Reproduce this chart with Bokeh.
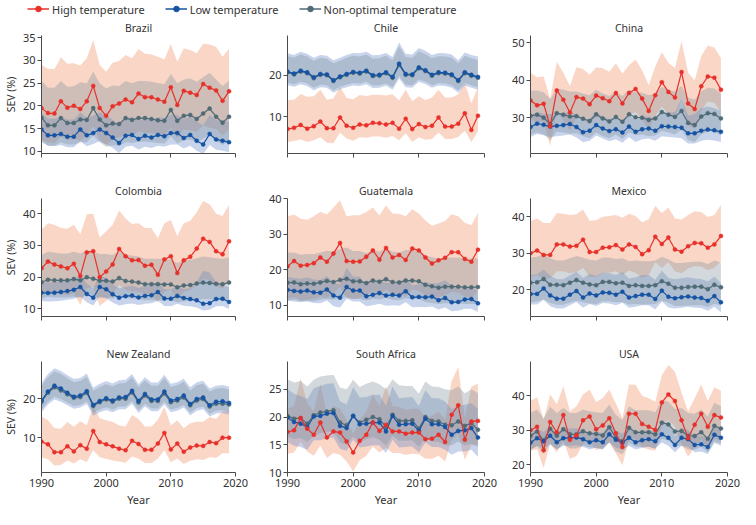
from bokeh.plotting import figure
from bokeh.models import Range1d, FixedTicker, Legend, LegendItem, ColumnDataSource
from bokeh.layouts import gridplot, column
from bokeh.embed import file_html
from bokeh.resources import INLINE

YEARS = list(range(1990, 2020))
X_TICKS = [1990, 2000, 2010, 2020]

# ---------------- Brazil ----------------
BRA_HIGH = [19.5, 18.4, 18.3, 21.0, 19.6, 20.0, 19.3, 21.0, 24.4, 19.5,
            17.8, 19.9, 20.5, 21.4, 20.8, 22.7, 21.9, 21.9, 21.4, 20.9,
            24.1, 20.2, 23.3, 22.9, 22.4, 24.8, 24.0, 23.4, 21.1, 23.2]
BRA_HIGH_HI = [29.0, 28.2, 28.1, 30.7, 29.3, 29.4, 28.9, 30.5, 34.5, 29.0,
               27.5, 29.5, 29.9, 31.2, 30.5, 32.5, 31.5, 31.3, 30.8, 30.2,
               33.6, 29.7, 32.7, 32.3, 31.6, 33.7, 33.5, 33.0, 30.8, 32.6]
BRA_HIGH_LO = [12.5, 11.9, 11.8, 13.3, 12.5, 12.8, 12.3, 13.4, 15.5, 12.5,
               11.4, 12.7, 13.1, 13.6, 13.3, 14.4, 14.0, 14.0, 13.7, 13.4,
               15.2, 12.9, 14.8, 14.6, 14.3, 15.7, 15.2, 14.9, 13.5, 14.8]
BRA_NOPT = [17.4, 15.7, 15.7, 17.3, 16.2, 16.2, 17.0, 16.9, 19.5, 17.0,
            15.7, 16.1, 16.0, 17.3, 16.9, 17.3, 17.3, 17.1, 16.8, 16.7,
            19.1, 16.7, 17.8, 18.0, 17.1, 18.3, 19.4, 17.6, 16.3, 17.6]
BRA_NOPT_HI = [25.5, 24.0, 24.0, 25.5, 24.2, 24.3, 25.2, 25.0, 27.5, 25.0,
               23.8, 24.5, 24.4, 25.5, 25.0, 25.5, 25.5, 25.3, 25.0, 24.8,
               27.0, 25.0, 25.8, 26.0, 25.3, 26.3, 27.3, 25.8, 24.4, 25.6]
BRA_NOPT_LO = [12.0, 11.2, 11.2, 12.0, 11.5, 11.5, 12.0, 12.0, 13.5, 12.0,
               11.0, 11.3, 11.2, 12.0, 11.8, 12.1, 12.1, 12.0, 11.8, 11.7,
               13.3, 11.7, 12.4, 12.6, 12.0, 12.8, 13.5, 12.3, 11.4, 12.3]
BRA_LOW = [14.8, 13.5, 13.5, 13.8, 13.2, 13.2, 14.8, 13.5, 14.0, 14.8,
           14.0, 13.0, 11.8, 13.4, 13.6, 12.7, 13.4, 13.0, 13.6, 13.3,
           14.0, 14.0, 12.9, 13.6, 12.3, 11.5, 13.8, 12.6, 12.3, 12.0]
BRA_LOW_HI = [18.5, 17.2, 17.2, 17.5, 17.0, 17.0, 18.6, 17.3, 17.8, 18.6,
              17.8, 17.0, 15.8, 17.3, 17.5, 16.6, 17.3, 17.0, 17.5, 17.3,
              18.0, 18.0, 17.0, 17.7, 16.5, 15.8, 18.0, 16.8, 16.8, 16.5]
BRA_LOW_LO = [12.3, 11.2, 11.1, 11.4, 10.9, 10.9, 12.2, 11.1, 11.6, 12.2,
              11.5, 10.7, 9.6, 11.0, 11.2, 10.4, 11.0, 10.7, 11.2, 11.0,
              11.5, 11.5, 10.6, 11.2, 10.1, 9.4, 11.4, 10.3, 10.1, 9.8]

# ---------------- Chile ----------------
CHL_HIGH = [7.0, 7.3, 8.0, 7.1, 7.7, 8.8, 7.2, 7.2, 9.8, 7.8,
            7.3, 8.1, 7.9, 8.5, 8.4, 8.1, 8.5, 7.1, 9.5, 7.0,
            8.2, 7.5, 7.8, 9.8, 7.6, 7.6, 8.3, 10.8, 6.8, 10.2]
CHL_HIGH_HI = [14.0, 14.1, 15.5, 14.8, 14.9, 16.5, 14.1, 14.4, 17.2, 14.5,
               14.2, 15.2, 15.0, 15.3, 15.3, 15.1, 15.4, 13.9, 16.5, 13.7,
               14.9, 14.0, 14.6, 16.5, 14.6, 14.6, 15.4, 18.2, 13.2, 17.2]
CHL_HIGH_LO = [3.8, 4.2, 4.5, 3.9, 4.3, 5.0, 3.7, 3.6, 6.2, 4.7,
               4.2, 5.0, 4.9, 5.2, 5.2, 4.9, 5.3, 4.3, 6.0, 3.9,
               5.0, 4.4, 4.6, 6.2, 4.6, 4.6, 5.1, 6.6, 3.9, 6.4]
CHL_NOPT = [20.7, 20.2, 20.9, 20.5, 19.3, 20.1, 20.0, 18.6, 19.5, 20.1,
            20.6, 20.4, 20.9, 19.8, 19.9, 20.5, 19.4, 22.5, 20.1, 20.0,
            21.7, 21.0, 19.9, 20.5, 20.4, 20.0, 18.6, 20.5, 19.9, 19.4]
CHL_NOPT_HI = [24.6, 24.2, 25.0, 24.5, 23.5, 24.2, 24.0, 22.9, 23.5, 24.2,
               24.7, 24.5, 25.0, 24.0, 24.1, 24.7, 23.6, 27.0, 24.4, 24.2,
               25.8, 25.1, 24.1, 24.6, 24.5, 24.2, 22.9, 24.7, 24.1, 23.7]
CHL_NOPT_LO = [18.2, 17.8, 18.4, 18.0, 17.0, 17.7, 17.6, 16.4, 17.2, 17.7,
               18.1, 18.0, 18.4, 17.5, 17.6, 18.0, 17.1, 19.8, 17.7, 17.6,
               19.0, 18.5, 17.6, 18.1, 18.0, 17.6, 16.4, 18.1, 17.6, 17.1]
CHL_LOW = [20.9, 20.4, 21.1, 20.7, 19.5, 20.3, 20.2, 18.8, 19.7, 20.3,
           20.8, 20.6, 21.1, 20.0, 20.1, 20.7, 19.6, 22.8, 20.3, 20.2,
           21.9, 21.2, 20.1, 20.7, 20.6, 20.2, 18.8, 20.7, 20.1, 19.6]
CHL_LOW_HI = [25.3, 24.9, 25.7, 25.2, 24.2, 24.9, 24.7, 23.6, 24.2, 24.9,
              25.4, 25.3, 25.7, 24.8, 24.9, 25.4, 24.4, 27.9, 25.2, 25.0,
              26.6, 25.9, 24.9, 25.4, 25.3, 25.0, 23.6, 25.5, 24.9, 24.5]
CHL_LOW_LO = [17.6, 17.2, 17.8, 17.4, 16.4, 17.1, 17.0, 15.8, 16.6, 17.1,
              17.5, 17.4, 17.8, 16.9, 17.0, 17.5, 16.5, 19.2, 17.1, 17.0,
              18.4, 17.9, 17.0, 17.5, 17.4, 17.0, 15.8, 17.5, 17.0, 16.5]

# ---------------- China ----------------
CHN_HIGH = [34.6, 33.3, 33.7, 27.7, 37.3, 34.8, 31.4, 35.5, 35.1, 33.6,
            35.9, 35.2, 34.4, 36.6, 33.8, 36.6, 37.7, 35.1, 31.8, 36.0,
            39.5, 36.9, 35.4, 42.2, 33.8, 32.3, 38.4, 41.0, 40.7, 37.5]
CHN_HIGH_HI = [42.0, 40.8, 41.0, 35.0, 45.0, 42.0, 38.5, 43.5, 43.0, 41.5,
               43.5, 43.2, 42.3, 44.5, 41.8, 44.0, 45.6, 42.7, 38.7, 43.7,
               47.5, 44.7, 43.3, 50.5, 42.0, 40.0, 46.5, 49.3, 48.8, 46.0]
CHN_HIGH_LO = [29.5, 28.8, 29.0, 22.5, 31.5, 29.3, 26.5, 30.0, 29.5, 28.2,
               30.2, 29.5, 29.0, 30.7, 28.3, 30.7, 31.5, 29.5, 26.8, 30.5,
               33.0, 31.0, 29.8, 35.0, 28.0, 27.0, 32.0, 34.3, 34.0, 31.5]
CHN_NOPT = [30.5, 30.8, 30.0, 28.3, 31.2, 30.8, 30.3, 30.4, 29.7, 29.1,
            30.9, 29.8, 29.0, 30.2, 28.9, 30.9, 30.1, 30.0, 29.4, 29.8,
            31.5, 30.8, 30.2, 31.8, 28.6, 28.0, 30.3, 31.2, 31.0, 29.8]
CHN_NOPT_HI = [37.3, 37.3, 36.8, 35.0, 37.8, 37.5, 37.0, 37.0, 36.5, 36.0,
               37.5, 36.5, 35.8, 37.0, 35.8, 37.5, 36.8, 36.7, 36.0, 36.5,
               38.2, 37.5, 37.0, 38.5, 35.3, 34.8, 37.0, 38.0, 37.8, 36.5]
CHN_NOPT_LO = [25.5, 26.0, 25.5, 24.0, 26.2, 26.0, 25.7, 25.8, 25.0, 24.5,
               26.0, 25.0, 24.5, 25.5, 24.3, 26.0, 25.3, 25.5, 25.0, 25.2,
               26.5, 26.0, 25.5, 26.8, 24.0, 23.5, 25.5, 26.3, 26.2, 25.3]
CHN_LOW = [27.5, 28.4, 28.1, 27.6, 27.8, 28.0, 28.3, 27.5, 26.1, 26.5,
           28.0, 27.1, 26.4, 26.9, 26.0, 27.6, 26.2, 26.9, 27.1, 26.5,
           27.7, 27.6, 27.5, 27.3, 25.8, 25.8, 26.5, 26.8, 26.6, 26.2]
CHN_LOW_HI = [30.5, 31.5, 31.0, 31.0, 31.0, 31.2, 31.5, 30.8, 29.3, 29.7,
              31.3, 30.3, 29.6, 30.1, 29.2, 30.8, 29.4, 30.1, 30.3, 29.7,
              31.5, 31.3, 31.5, 35.0, 30.5, 31.0, 32.5, 33.0, 32.5, 31.8]
CHN_LOW_LO = [24.8, 25.6, 25.3, 24.8, 25.0, 25.2, 25.5, 24.7, 23.4, 23.8,
              25.2, 24.4, 23.7, 24.2, 23.3, 24.8, 23.5, 24.2, 24.4, 23.8,
              25.0, 24.8, 24.7, 24.5, 23.1, 23.1, 23.8, 24.1, 23.9, 23.5]

# ---------------- Colombia ----------------
COL_HIGH = [22.8, 24.9, 24.0, 23.4, 22.8, 24.2, 20.4, 27.8, 28.2, 20.0,
            21.8, 24.0, 28.9, 26.6, 25.3, 25.4, 23.6, 23.9, 20.8, 25.6,
            26.6, 21.3, 25.3, 26.4, 29.0, 32.1, 31.1, 28.2, 27.2, 31.3]
COL_HIGH_HI = [35.0, 37.0, 36.5, 35.5, 35.3, 36.5, 33.5, 39.8, 40.0, 32.5,
               34.5, 36.5, 41.0, 38.5, 36.8, 37.0, 35.5, 35.5, 32.3, 37.0,
               38.0, 33.0, 37.0, 37.8, 40.5, 44.0, 43.0, 40.0, 39.3, 42.8]
COL_HIGH_LO = [14.5, 15.5, 15.0, 14.8, 14.3, 15.0, 11.2, 16.5, 17.0, 10.9,
               12.5, 14.8, 17.5, 16.0, 15.5, 15.5, 14.5, 14.5, 12.0, 15.5,
               16.0, 13.0, 15.3, 16.0, 17.5, 19.5, 19.0, 17.0, 16.5, 19.0]
COL_NOPT = [18.4, 19.2, 19.0, 19.0, 19.0, 19.4, 19.0, 20.0, 19.5, 18.9,
            18.9, 18.6, 19.7, 18.8, 18.6, 18.3, 17.8, 17.8, 17.8, 17.7,
            17.7, 16.8, 17.4, 17.5, 18.0, 18.3, 18.2, 17.9, 17.8, 18.3]
COL_NOPT_HI = [27.0, 28.0, 27.8, 27.5, 27.5, 28.0, 27.5, 28.5, 28.0, 27.3,
               27.3, 27.0, 28.2, 27.0, 26.8, 26.5, 25.8, 25.8, 25.8, 25.7,
               25.6, 24.5, 25.3, 25.4, 26.0, 26.5, 26.3, 26.0, 25.8, 26.3]
COL_NOPT_LO = [13.3, 13.8, 13.6, 13.6, 13.6, 13.8, 13.6, 14.2, 13.8, 13.5,
               13.5, 13.3, 14.0, 13.4, 13.3, 13.1, 12.7, 12.7, 12.7, 12.6,
               12.7, 12.0, 12.4, 12.5, 12.8, 13.1, 13.0, 12.8, 12.7, 13.1]
COL_LOW = [15.1, 15.0, 15.1, 15.3, 15.6, 16.0, 16.9, 14.7, 13.5, 16.9,
           16.2, 14.6, 13.5, 14.0, 14.2, 13.6, 14.1, 14.3, 15.3, 13.3,
           13.2, 14.1, 13.4, 13.1, 12.7, 11.6, 11.8, 13.1, 13.2, 12.2]
COL_LOW_HI = [18.5, 18.3, 18.4, 18.6, 19.0, 19.5, 20.5, 18.0, 16.5, 20.5,
              19.7, 17.8, 16.5, 17.0, 17.3, 16.6, 17.2, 17.4, 18.6, 16.2,
              16.1, 17.2, 16.3, 16.5, 18.5, 22.0, 21.5, 18.5, 17.5, 16.8]
COL_LOW_LO = [12.5, 12.3, 12.4, 12.6, 12.9, 13.2, 13.9, 12.1, 11.1, 13.9,
              13.3, 12.0, 11.1, 11.5, 11.7, 11.2, 11.6, 11.8, 12.6, 10.9,
              10.8, 11.6, 11.0, 10.8, 10.4, 9.5, 9.7, 10.8, 10.9, 10.0]

# ---------------- Guatemala ----------------
GTM_HIGH = [20.9, 22.4, 21.1, 21.3, 21.8, 23.4, 22.2, 24.5, 27.5, 22.4,
            22.2, 22.3, 23.6, 25.4, 22.8, 26.1, 23.4, 24.1, 22.7, 25.9,
            25.4, 23.4, 21.7, 22.6, 23.3, 24.9, 24.9, 23.0, 22.2, 25.6]
GTM_HIGH_HI = [35.0, 35.5, 34.3, 34.0, 35.0, 36.3, 35.5, 37.5, 39.5, 35.0,
               35.3, 35.3, 36.2, 37.5, 35.2, 38.0, 35.8, 35.7, 35.0, 37.0,
               35.8, 33.8, 32.3, 33.0, 33.7, 35.6, 35.0, 33.2, 32.5, 36.0]
GTM_HIGH_LO = [11.8, 12.3, 11.3, 11.5, 11.8, 12.5, 12.0, 13.5, 15.0, 12.0,
               11.8, 12.0, 12.8, 14.0, 12.5, 14.5, 12.8, 13.2, 12.3, 14.5,
               14.0, 12.8, 11.8, 12.3, 12.8, 13.8, 13.5, 12.5, 12.0, 14.0]
GTM_NOPT = [16.3, 16.4, 15.9, 16.1, 16.0, 16.4, 16.8, 16.5, 17.1, 17.4,
            16.7, 16.7, 16.2, 16.9, 16.6, 17.3, 16.5, 16.4, 16.9, 16.9,
            16.7, 15.7, 15.3, 14.9, 15.2, 15.2, 15.2, 15.0, 15.0, 15.1]
GTM_NOPT_HI = [24.8, 24.8, 24.2, 24.4, 24.3, 24.8, 25.3, 25.0, 25.8, 26.2,
               25.2, 25.2, 24.6, 25.5, 25.0, 26.0, 25.0, 24.8, 25.5, 25.5,
               25.2, 24.0, 23.5, 23.1, 23.3, 23.4, 23.4, 23.1, 23.1, 23.2]
GTM_NOPT_LO = [11.3, 11.5, 11.1, 11.2, 11.1, 11.5, 11.8, 11.5, 12.0, 12.3,
               11.7, 11.7, 11.3, 11.8, 11.6, 12.1, 11.5, 11.4, 11.9, 11.8,
               11.7, 10.9, 10.6, 10.3, 10.5, 10.5, 10.5, 10.3, 10.3, 10.4]
GTM_LOW = [14.3, 14.0, 13.8, 14.1, 13.6, 13.5, 14.4, 12.7, 12.1, 15.1,
           14.1, 14.1, 12.5, 12.9, 13.4, 12.7, 12.9, 12.7, 13.9, 12.2,
           12.3, 12.2, 12.4, 11.4, 12.0, 10.8, 10.9, 11.6, 11.7, 10.5]
GTM_LOW_HI = [18.0, 17.6, 17.4, 17.8, 17.2, 17.0, 18.2, 16.2, 15.8, 20.5,
              18.0, 18.0, 15.8, 16.5, 17.0, 16.2, 16.4, 16.2, 17.8, 15.5,
              15.8, 16.5, 16.0, 16.2, 17.0, 15.5, 14.5, 15.0, 15.2, 14.0]
GTM_LOW_LO = [11.2, 11.0, 10.8, 11.0, 10.6, 10.5, 11.3, 9.7, 9.3, 11.8,
              11.0, 11.0, 9.7, 10.0, 10.4, 9.8, 10.0, 9.8, 10.8, 9.4,
              9.5, 9.4, 9.6, 8.8, 9.3, 8.3, 8.4, 9.0, 9.0, 8.1]

# ---------------- Mexico ----------------
MEX_HIGH = [30.0, 30.7, 29.5, 29.5, 32.4, 32.4, 31.8, 32.0, 33.7, 30.3,
            30.3, 31.5, 31.6, 32.2, 31.0, 32.4, 31.7, 29.7, 30.8, 34.5,
            32.5, 34.3, 31.0, 30.4, 31.9, 32.8, 32.7, 31.5, 32.4, 34.7]
MEX_HIGH_HI = [38.8, 39.5, 38.3, 38.3, 41.0, 40.8, 40.5, 40.7, 42.0, 38.9,
               39.0, 40.0, 40.2, 40.5, 39.7, 40.8, 40.2, 38.5, 39.3, 43.0,
               41.0, 42.5, 39.5, 39.2, 40.5, 41.5, 41.3, 39.9, 40.5, 43.3]
MEX_HIGH_LO = [23.5, 24.0, 23.0, 23.0, 25.0, 25.0, 24.5, 24.8, 26.0, 23.5,
               23.5, 24.5, 24.6, 25.0, 24.0, 25.2, 24.6, 23.2, 24.0, 27.5,
               26.0, 27.5, 25.0, 24.5, 25.8, 26.5, 26.3, 25.3, 26.0, 27.8]
MEX_NOPT = [21.9, 22.0, 22.9, 21.3, 21.3, 21.2, 21.9, 22.6, 21.9, 21.4,
            21.2, 22.1, 22.1, 21.7, 21.9, 21.0, 21.2, 21.0, 21.0, 21.2,
            22.3, 21.6, 20.5, 20.5, 20.7, 20.8, 20.8, 20.1, 21.3, 20.6]
MEX_NOPT_HI = [28.8, 29.0, 29.6, 28.6, 28.0, 28.0, 28.6, 29.2, 28.7, 28.2,
               28.0, 28.8, 28.8, 28.4, 28.6, 27.8, 28.0, 27.8, 27.8, 28.0,
               29.0, 28.3, 27.3, 27.3, 27.5, 27.6, 27.6, 27.0, 28.0, 27.4]
MEX_NOPT_LO = [16.5, 16.7, 17.3, 16.3, 15.8, 15.8, 16.4, 17.0, 16.5, 16.2,
               16.0, 16.8, 16.8, 16.5, 16.6, 15.9, 16.0, 15.9, 15.9, 16.0,
               16.9, 16.4, 15.5, 15.5, 15.6, 15.7, 15.7, 15.2, 16.1, 15.6]
MEX_LOW = [18.8, 18.8, 20.3, 18.4, 17.5, 17.5, 18.6, 19.6, 17.8, 18.9,
           18.4, 19.2, 19.1, 18.6, 19.4, 17.8, 18.2, 18.6, 18.6, 17.4,
           19.7, 18.0, 17.6, 17.9, 18.1, 17.8, 17.7, 16.9, 18.2, 16.5]
MEX_LOW_HI = [24.0, 24.2, 25.5, 23.8, 22.8, 22.8, 23.9, 24.9, 23.2, 24.3,
              23.7, 24.6, 24.5, 24.0, 24.8, 23.0, 23.4, 24.0, 24.0, 22.7,
              25.2, 23.2, 22.8, 23.1, 23.4, 23.0, 22.9, 22.2, 23.6, 21.8]
MEX_LOW_LO = [15.9, 15.9, 17.2, 15.4, 14.8, 14.8, 15.7, 16.6, 15.0, 16.0,
              15.5, 16.3, 16.2, 15.7, 16.4, 15.0, 15.3, 15.7, 15.7, 14.5,
              16.7, 15.1, 14.8, 15.0, 15.3, 15.0, 14.9, 14.2, 15.3, 13.8]

# ---------------- New Zealand ----------------
NZL_HIGH = [9.0, 8.3, 6.3, 6.3, 7.8, 6.5, 8.1, 7.2, 11.7, 8.9,
            8.3, 7.8, 7.2, 6.8, 9.2, 8.4, 6.9, 6.9, 8.5, 11.2,
            7.0, 8.5, 6.4, 7.5, 8.0, 7.9, 8.9, 8.6, 10.0, 10.0]
NZL_HIGH_HI = [15.5, 14.5, 12.5, 12.3, 14.0, 12.8, 14.2, 13.2, 18.0, 15.0,
               14.5, 14.0, 13.2, 12.9, 15.8, 14.8, 12.9, 12.9, 14.6, 17.9,
               13.1, 14.5, 12.4, 13.7, 14.1, 14.1, 15.3, 14.8, 16.8, 16.8]
NZL_HIGH_LO = [5.0, 4.5, 2.9, 3.0, 4.2, 3.4, 4.5, 3.8, 6.8, 5.0,
               4.6, 4.2, 3.9, 3.6, 5.2, 4.6, 3.5, 3.5, 4.7, 6.8,
               3.7, 4.7, 3.3, 4.1, 4.5, 4.3, 5.0, 4.8, 6.0, 6.0]
NZL_NOPT = [19.2, 21.5, 22.9, 22.1, 21.1, 20.2, 20.4, 21.5, 18.1, 19.1,
            19.8, 19.2, 20.0, 20.0, 21.6, 19.0, 20.8, 19.4, 19.4, 21.3,
            19.1, 19.5, 20.3, 18.3, 19.5, 19.9, 18.0, 18.7, 18.7, 18.5]
NZL_NOPT_HI = [23.2, 25.5, 27.0, 26.3, 25.2, 24.2, 24.5, 25.6, 22.0, 23.0,
               23.7, 23.1, 23.9, 24.0, 25.5, 22.9, 24.7, 23.3, 23.3, 25.3,
               23.0, 23.4, 24.3, 22.1, 23.4, 23.8, 21.8, 22.5, 22.7, 22.3]
NZL_NOPT_LO = [17.2, 19.2, 20.5, 19.9, 19.0, 18.1, 18.4, 19.3, 16.3, 17.2,
               17.8, 17.2, 18.0, 18.0, 19.4, 17.0, 18.7, 17.5, 17.5, 19.2,
               17.2, 17.6, 18.4, 16.4, 17.6, 18.0, 16.1, 16.9, 17.0, 16.6]
NZL_LOW = [19.5, 21.8, 23.3, 22.6, 21.5, 20.5, 20.8, 21.9, 18.4, 19.4,
           20.1, 19.5, 20.3, 20.4, 22.0, 19.4, 21.2, 19.8, 19.8, 21.8,
           19.5, 19.9, 20.8, 18.6, 19.9, 20.3, 18.3, 19.2, 19.3, 18.9]
NZL_LOW_HI = [24.0, 26.3, 27.8, 27.1, 26.0, 25.0, 25.3, 26.4, 22.8, 23.8,
              24.5, 23.9, 24.7, 24.8, 26.3, 23.7, 25.5, 24.1, 24.1, 26.1,
              23.8, 24.2, 25.1, 22.9, 24.2, 24.6, 22.6, 23.3, 23.5, 23.1]
NZL_LOW_LO = [16.5, 18.5, 19.8, 19.2, 18.3, 17.4, 17.7, 18.6, 15.6, 16.5,
              17.1, 16.5, 17.3, 17.3, 18.7, 16.3, 18.0, 16.8, 16.8, 18.5,
              16.5, 16.9, 17.7, 15.7, 16.9, 17.3, 15.4, 16.2, 16.3, 15.9]

# ---------------- South Africa ----------------
ZAF_HIGH = [17.3, 17.6, 19.8, 17.9, 16.8, 19.0, 16.3, 17.4, 17.2, 15.6,
            13.6, 15.7, 16.8, 19.0, 17.5, 18.6, 17.4, 17.4, 17.0, 17.2,
            17.2, 16.0, 16.1, 16.8, 15.5, 20.4, 22.1, 15.9, 19.2, 19.3]
ZAF_HIGH_HI = [21.5, 22.0, 27.0, 22.5, 21.0, 26.0, 20.5, 22.0, 21.5, 19.5,
               17.0, 19.5, 21.0, 24.0, 22.0, 25.5, 22.0, 21.8, 21.3, 21.5,
               21.5, 20.0, 20.2, 21.0, 19.5, 26.5, 29.0, 19.8, 25.5, 26.0]
ZAF_HIGH_LO = [13.4, 13.6, 15.5, 13.8, 13.0, 14.8, 12.6, 13.5, 13.2, 12.0,
               10.2, 12.2, 13.0, 14.7, 13.6, 14.4, 13.5, 13.5, 13.2, 13.4,
               13.3, 12.5, 12.5, 13.0, 12.0, 15.8, 17.0, 12.3, 14.9, 15.0]
ZAF_NOPT = [20.2, 19.7, 19.8, 18.8, 20.3, 20.8, 21.0, 21.2, 19.0, 18.5,
            20.2, 19.0, 19.5, 20.0, 19.6, 18.2, 20.4, 19.3, 19.3, 19.4,
            17.9, 20.0, 19.3, 19.2, 18.6, 18.5, 19.2, 18.4, 18.9, 17.7]
ZAF_NOPT_HI = [26.8, 26.2, 26.5, 25.5, 26.7, 27.3, 27.5, 27.6, 25.3, 25.0,
               26.7, 25.4, 26.0, 26.4, 25.9, 25.0, 26.8, 25.7, 25.6, 25.6,
               24.2, 26.4, 25.5, 25.4, 25.0, 24.8, 25.5, 24.3, 25.0, 24.3]
ZAF_NOPT_LO = [16.5, 16.0, 16.2, 15.5, 16.6, 17.1, 17.3, 17.4, 15.4, 15.0,
               16.5, 15.5, 16.0, 16.4, 15.9, 14.8, 16.6, 15.7, 15.7, 15.8,
               14.6, 16.2, 15.6, 15.5, 14.9, 14.9, 15.6, 14.9, 15.2, 14.6]
ZAF_LOW = [19.9, 19.1, 18.8, 18.2, 20.1, 20.2, 20.6, 20.7, 18.4, 18.0,
           20.2, 18.7, 18.8, 19.0, 19.0, 17.4, 20.2, 18.6, 18.7, 18.8,
           17.5, 19.7, 18.7, 18.7, 18.2, 16.8, 17.5, 17.6, 18.0, 16.3]
ZAF_LOW_HI = [25.0, 24.2, 23.8, 23.2, 25.2, 25.6, 26.0, 26.1, 22.8, 22.3,
              25.4, 23.5, 23.6, 24.0, 24.0, 22.0, 25.5, 23.4, 23.5, 23.6,
              22.0, 24.8, 23.4, 23.4, 22.8, 21.4, 22.0, 22.2, 22.5, 21.5]
ZAF_LOW_LO = [15.5, 14.8, 14.6, 14.1, 15.8, 15.8, 16.2, 16.3, 14.3, 13.9,
              15.9, 14.5, 14.7, 14.9, 14.9, 13.5, 15.9, 14.5, 14.6, 14.7,
              13.6, 15.4, 14.6, 14.6, 14.1, 13.2, 13.8, 13.8, 14.1, 12.8]

# ---------------- USA ----------------
USA_HIGH = [30.0, 31.0, 24.2, 32.4, 29.4, 34.4, 27.2, 28.5, 32.9, 34.0,
            30.3, 31.4, 33.5, 29.1, 25.1, 34.8, 34.8, 31.8, 31.0, 30.1,
            38.1, 40.4, 38.5, 32.9, 27.7, 31.6, 34.8, 31.0, 34.4, 33.7]
USA_HIGH_HI = [38.5, 39.6, 33.0, 40.5, 37.5, 42.8, 35.5, 37.0, 40.5, 41.8,
               38.2, 39.4, 41.8, 37.8, 33.5, 43.3, 43.2, 40.0, 39.3, 38.3,
               46.0, 49.0, 47.0, 41.0, 35.5, 39.3, 43.3, 38.5, 42.5, 41.5]
USA_HIGH_LO = [24.0, 24.5, 19.0, 26.0, 23.5, 27.0, 21.6, 22.5, 26.0, 27.0,
               24.2, 25.0, 26.5, 23.2, 19.8, 27.5, 27.5, 25.0, 24.4, 24.0,
               31.0, 33.0, 31.0, 26.0, 22.3, 25.0, 27.4, 24.3, 27.5, 27.0]
USA_NOPT = [28.4, 29.6, 27.0, 30.4, 28.4, 30.3, 28.8, 28.8, 29.7, 29.1,
            28.9, 28.5, 30.9, 27.8, 26.8, 30.7, 29.4, 29.4, 29.4, 28.8,
            32.2, 31.7, 29.6, 29.8, 28.4, 28.3, 29.4, 27.5, 31.3, 30.5]
USA_NOPT_HI = [35.0, 36.0, 33.5, 36.8, 35.0, 36.5, 35.0, 35.0, 36.0, 35.5,
               35.2, 35.0, 37.5, 34.5, 33.0, 37.0, 35.8, 35.8, 35.8, 35.2,
               38.8, 38.3, 36.2, 36.5, 35.0, 34.8, 36.0, 34.0, 38.0, 37.0]
USA_NOPT_LO = [24.4, 25.4, 23.1, 26.0, 24.4, 26.0, 24.7, 24.7, 25.5, 25.0,
               24.8, 24.5, 26.5, 23.8, 23.0, 26.3, 25.2, 25.2, 25.2, 24.7,
               27.5, 27.0, 25.4, 25.5, 24.4, 24.3, 25.2, 23.6, 26.8, 26.1]
USA_LOW = [26.4, 27.7, 26.8, 28.4, 26.5, 27.7, 27.8, 27.9, 27.4, 26.5,
           27.1, 26.5, 28.8, 27.2, 26.4, 27.8, 26.5, 27.1, 27.4, 26.8,
           28.8, 27.8, 25.7, 27.8, 27.4, 25.7, 25.9, 25.1, 28.7, 27.8]
USA_LOW_HI = [29.0, 30.4, 29.5, 31.0, 29.1, 30.4, 30.5, 30.6, 30.0, 29.1,
              29.8, 29.1, 31.5, 29.9, 29.0, 30.5, 29.1, 29.8, 30.1, 29.5,
              31.6, 32.5, 28.3, 30.5, 30.1, 28.3, 28.5, 27.7, 31.5, 30.6]
USA_LOW_LO = [24.3, 25.4, 24.6, 26.0, 24.4, 25.4, 25.5, 25.6, 25.2, 24.4,
              24.9, 24.4, 26.4, 25.0, 24.3, 25.5, 24.4, 24.9, 25.2, 24.6,
              26.4, 25.5, 23.6, 25.5, 25.2, 23.6, 23.8, 23.1, 26.3, 25.5]

# panel table: title, y-range, y ticks, series
PANELS = [
    ("Brazil", (9.5, 35.5), [10, 15, 20, 25, 30, 35],
     (BRA_HIGH, BRA_HIGH_LO, BRA_HIGH_HI), (BRA_LOW, BRA_LOW_LO, BRA_LOW_HI), (BRA_NOPT, BRA_NOPT_LO, BRA_NOPT_HI)),
    ("Chile", (1.1, 29.6), [10, 20],
     (CHL_HIGH, CHL_HIGH_LO, CHL_HIGH_HI), (CHL_LOW, CHL_LOW_LO, CHL_LOW_HI), (CHL_NOPT, CHL_NOPT_LO, CHL_NOPT_HI)),
    ("China", (20.4, 52.0), [30, 40, 50],
     (CHN_HIGH, CHN_HIGH_LO, CHN_HIGH_HI), (CHN_LOW, CHN_LOW_LO, CHN_LOW_HI), (CHN_NOPT, CHN_NOPT_LO, CHN_NOPT_HI)),
    ("Colombia", (7.6, 44.8), [10, 20, 30, 40],
     (COL_HIGH, COL_HIGH_LO, COL_HIGH_HI), (COL_LOW, COL_LOW_LO, COL_LOW_HI), (COL_NOPT, COL_NOPT_LO, COL_NOPT_HI)),
    ("Guatemala", (6.8, 40.0), [10, 20, 30, 40],
     (GTM_HIGH, GTM_HIGH_LO, GTM_HIGH_HI), (GTM_LOW, GTM_LOW_LO, GTM_LOW_HI), (GTM_NOPT, GTM_NOPT_LO, GTM_NOPT_HI)),
    ("Mexico", (12.6, 45.0), [20, 30, 40],
     (MEX_HIGH, MEX_HIGH_LO, MEX_HIGH_HI), (MEX_LOW, MEX_LOW_LO, MEX_LOW_HI), (MEX_NOPT, MEX_NOPT_LO, MEX_NOPT_HI)),
    ("New Zealand", (1.1, 29.5), [10, 20],
     (NZL_HIGH, NZL_HIGH_LO, NZL_HIGH_HI), (NZL_LOW, NZL_LOW_LO, NZL_LOW_HI), (NZL_NOPT, NZL_NOPT_LO, NZL_NOPT_HI)),
    ("South Africa", (10.0, 30.0), [10, 15, 20, 25],
     (ZAF_HIGH, ZAF_HIGH_LO, ZAF_HIGH_HI), (ZAF_LOW, ZAF_LOW_LO, ZAF_LOW_HI), (ZAF_NOPT, ZAF_NOPT_LO, ZAF_NOPT_HI)),
    ("USA", (17.7, 50.0), [20, 30, 40],
     (USA_HIGH, USA_HIGH_LO, USA_HIGH_HI), (USA_LOW, USA_LOW_LO, USA_LOW_HI), (USA_NOPT, USA_NOPT_LO, USA_NOPT_HI)),
]

SERIES_NAMES = ["High temperature", "Low temperature", "Non-optimal temperature"]
LINE_COLORS = ["#E8302A", "#1553A3", "#4F6B76"]
BAND_COLORS = ["#F4A582", "#6F8DCB", "#7D8F9C"]
BAND_ALPHAS = [0.45, 0.38, 0.35]

FONT = "Noto Sans"
TXT = "#333333"
AX = "#4a4a4a"

COL_W = [255, 243, 242]
COL_L = [38, 32, 32]
COL_R = [20, 14, 13]
ROW_H = [163, 163, 166]
ROW_T = [16, 16, 16]
ROW_B = [27, 27, 35]
LEG_H = 17


def make_panel(idx):
    title, yr, yticks, high, low, nopt = PANELS[idx]
    r, c = divmod(idx, 3)
    p = figure(width=COL_W[c], height=ROW_H[r],
               x_range=Range1d(1990, 2020), y_range=Range1d(*yr),
               output_backend="svg", toolbar_location=None,
               min_border_left=COL_L[c], min_border_right=COL_R[c],
               min_border_top=ROW_T[r], min_border_bottom=ROW_B[r], title=title)
    p.title.align = "center"
    p.title.text_font = FONT
    p.title.text_font_size = "10.5px"
    p.title.text_font_style = "normal"
    p.title.text_color = TXT
    p.title.standoff = 2
    p.outline_line_color = None
    p.grid.visible = False
    p.background_fill_color = "white"
    p.border_fill_color = "white"

    series = [high, low, nopt]
    for k in (0, 1, 2):
        vals, lo, hi = series[k]
        src = ColumnDataSource(dict(x=YEARS, lo=lo, hi=hi))
        p.varea(x="x", y1="lo", y2="hi", source=src,
                fill_color=BAND_COLORS[k], fill_alpha=BAND_ALPHAS[k])
    for k in (2, 1, 0):
        vals = series[k][0]
        src = ColumnDataSource(dict(x=YEARS, y=vals))
        p.line(x="x", y="y", source=src, line_color=LINE_COLORS[k], line_width=1.2)
        p.scatter(x="x", y="y", source=src, size=4, marker="circle",
                  fill_color=LINE_COLORS[k], line_color=LINE_COLORS[k], line_width=0.5)

    p.xaxis.ticker = FixedTicker(ticks=X_TICKS)
    p.yaxis.ticker = FixedTicker(ticks=yticks)
    for ax in (p.xaxis, p.yaxis):
        ax.axis_line_color = AX
        ax.major_tick_line_color = AX
        ax.minor_tick_line_color = None
        ax.major_tick_in = 0
        ax.major_tick_out = 4
        ax.major_label_text_font = FONT
        ax.major_label_text_font_size = "11px"
        ax.major_label_text_color = TXT
        ax.major_label_standoff = 2
        ax.axis_label_text_font = FONT
        ax.axis_label_text_font_style = "normal"
        ax.axis_label_text_color = TXT
    if r < 2:
        p.xaxis.major_label_overrides = {t: "" for t in X_TICKS}
    else:
        p.xaxis.axis_label = "Year"
        p.xaxis.axis_label_text_font_size = "11px"
        p.xaxis.axis_label_standoff = 2
    if c == 0:
        p.yaxis.axis_label = "SEV (%)"
        p.yaxis.axis_label_text_font_size = "10.5px"
        p.yaxis.axis_label_standoff = 2
    return p


panels = [make_panel(i) for i in range(9)]
grid = gridplot([panels[0:3], panels[3:6], panels[6:9]], toolbar_location=None)

# legend strip: the series are drawn out of this strip's view, only the legend shows
leg = figure(width=740, height=LEG_H, x_range=Range1d(0, 1), y_range=Range1d(0, 1),
             output_backend="svg", toolbar_location=None,
             min_border_left=27, min_border_right=0, min_border_top=0, min_border_bottom=0)
leg.axis.visible = False
leg.grid.visible = False
leg.outline_line_color = None
items = []
for k, vals in enumerate([BRA_HIGH, BRA_LOW, BRA_NOPT]):
    lr = leg.line(x=YEARS, y=vals, line_color=LINE_COLORS[k], line_width=1.6)
    sr = leg.scatter(x=YEARS, y=vals, size=7, marker="circle",
                     fill_color=LINE_COLORS[k], line_color=LINE_COLORS[k])
    items.append(LegendItem(label=SERIES_NAMES[k], renderers=[lr, sr]))
legend = Legend(items=items, orientation="horizontal", location="left",
                padding=0, margin=0, spacing=20, glyph_width=22, glyph_height=14,
                label_height=14, label_standoff=3, border_line_color=None,
                background_fill_alpha=0,
                label_text_font=FONT, label_text_font_size="11px",
                label_text_color=TXT)
leg.add_layout(legend, "center")

page = column(leg, grid)
open("out.html", "w").write(file_html(page, INLINE))
